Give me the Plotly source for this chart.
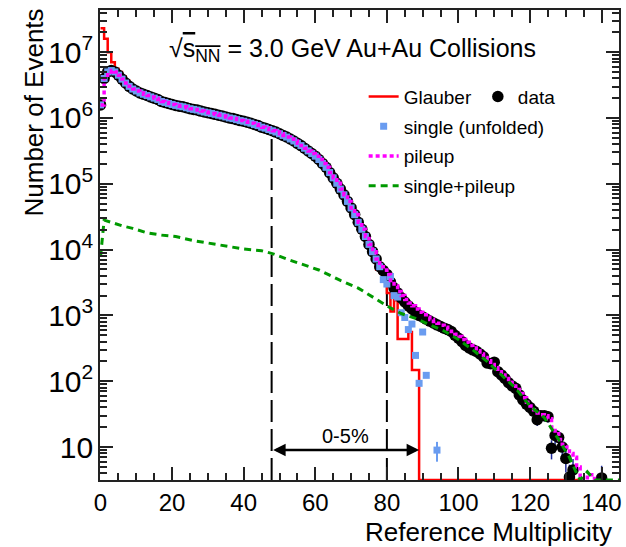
import math
import plotly.graph_objects as go

# ---------------- data ----------------
# data: main part, integer reference multiplicity 0..78
data_main = [1.58e6, 3.98e6, 5.01e6, 5.25e6, 5.01e6, 4.47e6, 3.89e6, 3.39e6, 3.02e6, 2.75e6,
             2.57e6, 2.40e6, 2.29e6, 2.19e6, 2.09e6, 2.00e6, 1.91e6, 1.78e6, 1.72e6, 1.66e6,
             1.60e6, 1.55e6, 1.51e6, 1.48e6, 1.43e6, 1.38e6, 1.35e6, 1.32e6, 1.27e6, 1.23e6,
             1.20e6, 1.17e6, 1.135e6, 1.10e6, 1.07e6, 1.035e6, 1.0e6, 9.77e5, 9.44e5, 9.12e5,
             8.91e5, 8.61e5, 8.32e5, 7.94e5, 7.67e5, 7.24e5, 7.0e5, 6.68e5, 6.38e5, 6.10e5,
             5.75e5, 5.43e5, 5.13e5, 4.79e5, 4.47e5, 4.12e5, 3.80e5, 3.47e5, 3.16e5, 2.88e5,
             2.63e5, 2.34e5, 2.04e5, 1.78e5, 1.48e5, 1.23e5, 1.02e5, 8.3e4, 6.8e4, 5.4e4,
             4.3e4, 3.4e4, 2.6e4, 2.04e4, 1.58e4, 1.2e4, 9.3e3, 7.2e3, 5.5e3]
# data: tail
data_tail_x = list(range(79, 133)) + [140]
data_tail = [4.8e3, 4.2e3, 3.2e3, 2.6e3, 2.2e3, 1.85e3, 1.6e3, 1.4e3, 1.25e3, 1.12e3,
             1.0e3, 950, 880, 820, 770, 720, 680, 640, 610, 570,
             500, 450, 400, 350, 320, 300, 285, 260, 235, 190,
             185, 195, 140, 125, 110, 95, 85, 78, 62, 52,
             45, 40, 35, 26, 30, 30, 29, 9.6, 15, 14,
             10, 6.7, 3.5, 4.5,
             3.4]
data_tail_err = [0] * 39 + [7, 6.7, 6.3, 5.9, 5.1, 5.5, 5.5, 5.4, 3.1, 3.9, 3.7, 3.2, 2.6, 1.9, 2.1, 1.8]

# single (unfolded): follows the data up to 78, then scattered tail
single_tail_x = [79, 80, 81, 82, 83, 84, 85, 86, 87, 88, 89, 90, 91, 94]
single_tail = [3.5e3, 3.0e3, 3.9e3, 2.0e3, 1.9e3, 1.1e3, 930, 610, 740, 247, 93, 560, 123, 9]
single_tail_err = [0] * 13 + [3]

# pileup: follows the data up to 78, then its own tail (0 = empty bin)
pileup_tail_x = list(range(79, 139))
pileup_tail = [4.9e3, 4.2e3,
               3.4e3, 2.8e3, 2.3e3, 2.0e3, 1.75e3, 1.55e3, 1.4e3, 1.25e3, 1.12e3, 1.02e3,
               940, 870, 810, 760, 710, 660, 620, 570, 520, 480,
               430, 390, 350, 320, 290, 260, 230, 205, 180, 160,
               140, 125, 110, 97, 85, 75, 65, 56, 48, 42,
               37, 33, 31, 30, 27, 20, 16, 13, 11, 10,
               8, 7, 5, 0, 0, 3.8, 3.8, 0]

# single+pileup
sp_x = [0, 1, 3, 6, 9, 13, 17, 21, 26, 30, 34, 40, 45, 48, 52, 57, 61, 64, 67, 72,
        76, 78, 81, 84, 88, 92, 96, 100, 104, 108, 112, 116, 120, 124, 128, 131, 133, 134, 136, 138,
        140, 145]
sp_y = [7.8e3, 2.8e4, 2.6e4, 2.3e4, 2.1e4, 1.8e4, 1.66e4, 1.58e4, 1.37e4, 1.25e4,
        1.17e4, 1.02e4, 9.6e3, 8.7e3, 7.2e3, 5.9e3, 4.9e3, 4.1e3, 3.4e3, 2.6e3,
        1.9e3, 1.6e3, 1.3e3, 1.07e3, 900, 720, 580, 430, 300, 200,
        125, 78, 42, 28, 13, 7, 4, 0, 4.2, 0,
        0, 0]

# Glauber: own head (0..7), follows data in the middle, own tail (77..134)
glauber_head = [2.3e7, 1.6e7, 1.0e7, 7.0e6, 5.6e6, 5.0e6, 4.3e6, 3.7e6]
glauber_tail_x = list(range(77, 135))
glauber_tail = [5.0e3, 4.5e3, 4.3e3, 2.2e3, 1.15e3, 1.7e3, 440, 440, 440, 560, 148, 148] + [0] * 46

# centrality cut lines and the 0-5% range
cut_x = [47.8, 80.0]
cut_top = [6.5e5, 4.1e3]
range_0_5 = [47.8, 89.0]
range_label = "0-5%"

Y_LOG_RANGE = [0.5, 7.64]
X_RANGE = [-0.15, 144.85]
floor = 10 ** Y_LOG_RANGE[0]


def at_floor(vals):
    # empty bins drawn on the lower edge of the log axis
    return [v if v > 0 else floor for v in vals]


main_x = list(range(len(data_main)))
data_x = main_x + data_tail_x
data_y = data_main + data_tail
data_err = [0] * len(data_main) + data_tail_err

single_x = main_x + single_tail_x
single_y = data_main + single_tail
single_err = [0] * len(data_main) + single_tail_err

pileup_x = main_x + pileup_tail_x
pileup_y = at_floor(data_main + pileup_tail)

glauber_x = list(range(len(glauber_head))) + list(range(len(glauber_head), 77)) + glauber_tail_x
glauber_y = at_floor(glauber_head + data_main[len(glauber_head):77] + glauber_tail)

FONT = "Liberation Sans, Arial, sans-serif"

fig = go.Figure()

# cut lines
for cx, ct in zip(cut_x, cut_top):
    fig.add_trace(go.Scatter(x=[cx, cx], y=[floor, ct], mode="lines",
                             line=dict(color="black", width=2, dash="22px,7px"),
                             showlegend=False, hoverinfo="skip"))

fig.add_trace(go.Scatter(x=glauber_x, y=glauber_y, mode="lines", name="Glauber",
                         line=dict(color="#ff0000", width=2.5, shape="hv"),
                         legend="legend", legendrank=1, legendgroup="g1"))
fig.add_trace(go.Scatter(x=data_x, y=data_y, mode="markers", name="data",
                         marker=dict(color="black", size=11.5, symbol="circle"),
                         error_y=dict(type="data", array=data_err, visible=True,
                                      color="#1f2a9a", thickness=1.5, width=0),
                         legend="legend2"))
fig.add_trace(go.Scatter(x=single_x, y=single_y, mode="markers", name="single (unfolded)",
                         marker=dict(color="#6a9cf0", size=7, symbol="square"),
                         error_y=dict(type="data", array=single_err, visible=True,
                                      color="#6a9cf0", thickness=2, width=0),
                         legend="legend", legendrank=2, legendgroup="g2"))
fig.add_trace(go.Scatter(x=pileup_x, y=pileup_y, mode="lines", name="pileup",
                         line=dict(color="#ff00ff", width=3.5, dash="4px,3px", shape="hv"),
                         legend="legend", legendrank=3, legendgroup="g3"))
fig.add_trace(go.Scatter(x=sp_x, y=at_floor(sp_y), mode="lines", name="single+pileup",
                         line=dict(color="#009900", width=3, dash="7px,5px"),
                         legend="legend", legendrank=4, legendgroup="g4"))

axis_common = dict(showline=True, linecolor="#222", linewidth=2, mirror="ticks",
                   ticks="inside", ticklen=13, tickwidth=1.5, tickcolor="#222",
                   showgrid=False, zeroline=False,
                   tickfont=dict(family=FONT, size=24, color="black"))

fig.update_xaxes(range=X_RANGE, tick0=0, dtick=20,
                 minor=dict(dtick=5, ticks="inside", ticklen=7, tickwidth=1.5, tickcolor="#222"),
                 **axis_common)
fig.update_yaxes(type="log", range=Y_LOG_RANGE, dtick=1, exponentformat="power",
                 minor=dict(dtick="D1", ticks="inside", ticklen=7, tickwidth=1.5, tickcolor="#222"),
                 **axis_common)

fig.update_layout(
    width=626, height=547,
    margin=dict(l=100, r=4, t=10, b=67),
    plot_bgcolor="white", paper_bgcolor="white",
    font=dict(family=FONT, color="black"),
    legend=dict(x=0.508, y=0.856, xanchor="left", yanchor="top", bgcolor="rgba(0,0,0,0)",
                font=dict(family=FONT, size=19), traceorder="grouped", tracegroupgap=2),
    legend2=dict(x=0.728, y=0.856, xanchor="left", yanchor="top", bgcolor="rgba(0,0,0,0)",
                 font=dict(family=FONT, size=19)),
    annotations=[
        dict(text="Number of Events", textangle=-90, xref="paper", yref="paper",
             x=-0.128, y=0.781, xanchor="center", yanchor="middle", showarrow=False,
             font=dict(family=FONT, size=26)),
        dict(text="Reference Multiplicity", xref="paper", yref="paper",
             x=0.99, y=-0.111, xanchor="right", yanchor="middle", showarrow=False,
             font=dict(family=FONT, size=26)),
        dict(text="√<span style='text-decoration:overline'>s<sub>NN</sub></span> = 3.0 GeV Au+Au Collisions",
             xref="paper", yref="paper", x=0.130, y=0.915, xanchor="left", yanchor="middle",
             showarrow=False, font=dict(family=FONT, size=25)),
        dict(text="", xref="x", yref="y", axref="x", ayref="y",
             x=range_0_5[1], y=math.log10(9), ax=range_0_5[0], ay=math.log10(9),
             showarrow=True, arrowside="end+start", arrowhead=2, arrowsize=1,
             arrowwidth=2.5, arrowcolor="black", standoff=0, startstandoff=0),
        dict(text=range_label, xref="x", yref="y",
             x=(range_0_5[0] + range_0_5[1]) / 2, y=math.log10(15), showarrow=False,
             font=dict(family=FONT, size=20)),
    ],
)

fig.write_html("out.html")
